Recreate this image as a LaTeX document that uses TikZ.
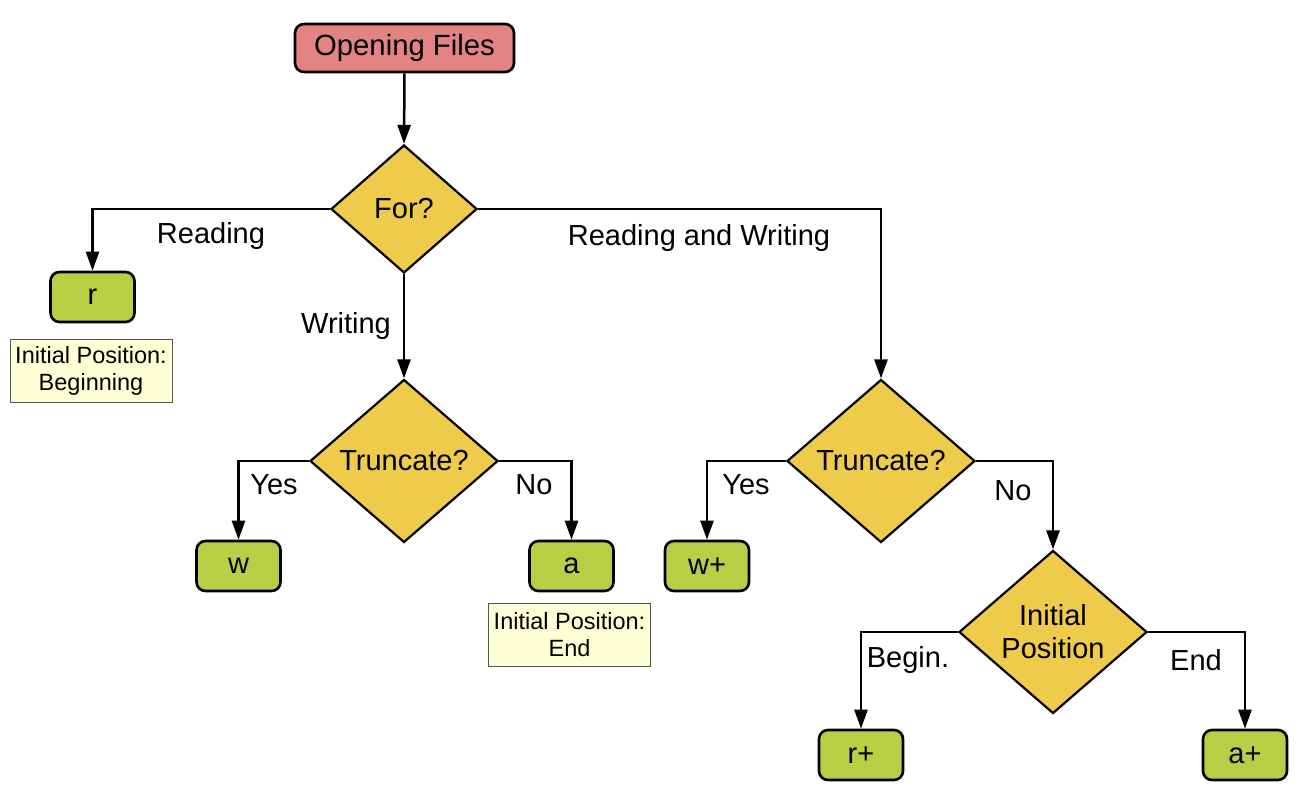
\documentclass[tikz,border=0pt]{standalone}
\usepackage{fontspec}
\setmainfont{Liberation Sans}
\usetikzlibrary{shapes.geometric,arrows.meta}
\definecolor{startfill}{HTML}{E48383}
\definecolor{modefill}{HTML}{B6CF45}
\definecolor{askfill}{HTML}{EECB4A}
\definecolor{notefill}{HTML}{FFFFD6}
\definecolor{notedraw}{HTML}{555555}
\begin{document}
\begin{tikzpicture}[x=1pt,y=-1pt,
  startbox/.style={draw=black, line width=2.6pt, fill=startfill, rounded corners=9pt,
    minimum width=219pt, minimum height=48pt, inner sep=0pt, font=\fontsize{29.3}{33}\selectfont},
  modebox/.style={draw=black, line width=2.6pt, fill=modefill, rounded corners=9pt,
    minimum width=84pt, minimum height=50pt, inner sep=0pt, font=\fontsize{29}{33}\selectfont},
  askbox/.style={diamond, draw=black, line width=2.2pt, fill=askfill, inner sep=0pt,
    align=center, font=\fontsize{29}{33}\selectfont},
  notebox/.style={draw=notedraw, line width=1pt, fill=notefill, inner sep=0pt,
    minimum width=162pt, minimum height=63pt, align=center, font=\fontsize{23.5}{27}\selectfont},
  lbl/.style={inner sep=0pt, font=\fontsize{29}{33}\selectfont},
  arr/.style={draw=black, line width=2.5pt, -{Triangle[length=19pt,width=13pt]}}
]
\useasboundingbox (0,0) rectangle (1312,798);

\node[startbox] (open) at (404.5,48) {Opening Files};
\node[askbox, minimum width=146pt, minimum height=128pt] (for) at (404,209) {For?};

\node[modebox] (r) at (92.5,297) {r};
\node[notebox] (n1) at (91,371) {Initial Position:\\Beginning};

\node[askbox, minimum width=188pt, minimum height=163pt] (t1) at (404,461) {Truncate?};
\node[modebox] (w) at (238.5,566) {w};
\node[modebox] (a) at (571.5,566) {a};
\node[notebox] (n2) at (569.5,634.5) {Initial Position:\\End};

\node[askbox, minimum width=188pt, minimum height=163pt] (t2) at (881,461) {Truncate?};
\node[modebox] (wp) at (707,566) {w+};
\node[askbox, minimum width=188pt, minimum height=163pt] (ip) at (1053,632) {Initial\\Position};
\node[modebox] (rp) at (861,755) {r+};
\node[modebox] (ap) at (1245,755) {a+};

\draw[arr] (open.south) -- (for.north);
\draw[arr] (for.west) -| (r.north);
\draw[arr] (for.south) -- (t1.north);
\draw[arr] (for.east) -| (t2.north);
\draw[arr] (t1.west) -| (w.north);
\draw[arr] (t1.east) -| (a.north);
\draw[arr] (t2.west) -| (wp.north);
\draw[arr] (t2.east) -| (ip.north);
\draw[arr] (ip.west) -| (rp.north);
\draw[arr] (ip.east) -| (ap.north);

\node[lbl] (lread) at (211,236) {Reading};
\node[lbl] (lwrite) at (346,326) {Writing};
\node[lbl] (lrw) at (699,238) {Reading and Writing};
\node[lbl] (ly1) at (274,485) {Yes};
\node[lbl] (ln1) at (534,485) {No};
\node[lbl] (ly2) at (746,485) {Yes};
\node[lbl] (ln2) at (1013,491) {No};
\node[lbl] (lbeg) at (908,660) {Begin.};
\node[lbl] (lend) at (1196,660) {End};
\end{tikzpicture}
\end{document}
